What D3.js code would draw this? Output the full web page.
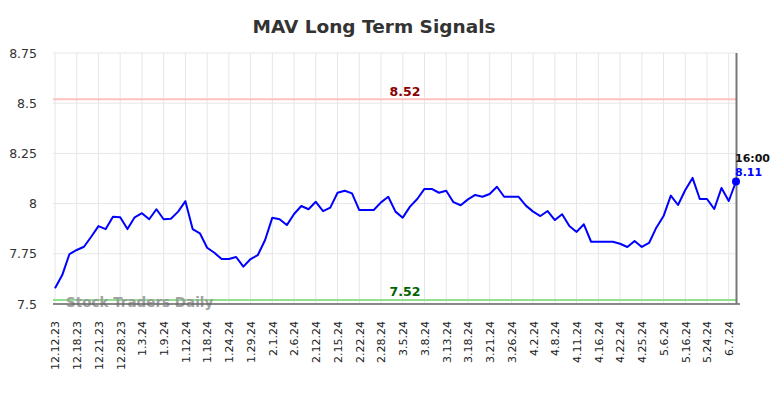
<!DOCTYPE html>
<html>
<head>
<meta charset="utf-8">
<script src="https://cdn.jsdelivr.net/npm/d3@7"></script>
<style>
  body { margin: 0; background: #fff; }
  svg { display: block; font-family: "DejaVu Sans", sans-serif; }
</style>
</head>
<body>
<div class="chart-container"></div>
<script>
// closing values, one per point (95 points)
const values = [
  7.578, 7.644, 7.749, 7.769, 7.785, 7.835, 7.888, 7.873, 7.935, 7.932,
  7.873, 7.932, 7.952, 7.922, 7.972, 7.922, 7.925, 7.960, 8.012, 7.873,
  7.852, 7.780, 7.755, 7.724, 7.724, 7.734, 7.686, 7.724, 7.744, 7.819,
  7.930, 7.922, 7.893, 7.948, 7.988, 7.972, 8.009, 7.962, 7.980, 8.054,
  8.064, 8.051, 7.968, 7.968, 7.968, 8.006, 8.034, 7.960, 7.930, 7.985,
  8.023, 8.073, 8.073, 8.054, 8.064, 8.007, 7.992, 8.021, 8.043, 8.034,
  8.048, 8.084, 8.034, 8.034, 8.034, 7.990, 7.960, 7.938, 7.963, 7.918,
  7.947, 7.888, 7.859, 7.897, 7.810, 7.810, 7.810, 7.810, 7.800, 7.784,
  7.814, 7.784, 7.804, 7.880, 7.938, 8.040, 7.993, 8.068, 8.128, 8.023,
  8.023, 7.973, 8.078, 8.013, 8.110
];

// one date label every 3 points
const tickLabels = [
  "12.12.23", "12.18.23", "12.21.23", "12.28.23", "1.3.24", "1.9.24",
  "1.12.24", "1.18.24", "1.24.24", "1.29.24", "2.1.24", "2.6.24",
  "2.12.24", "2.15.24", "2.22.24", "2.28.24", "3.5.24", "3.8.24",
  "3.13.24", "3.18.24", "3.21.24", "3.26.24", "4.2.24", "4.8.24",
  "4.11.24", "4.16.24", "4.22.24", "4.25.24", "5.6.24", "5.16.24",
  "5.24.24", "6.7.24"
];
const labelEvery = 3;

const yTicks = [7.5, 7.75, 8, 8.25, 8.5, 8.75];
const resistance = 8.52;
const support = 7.52;
const lastTime = "16:00";

const width = 784, height = 398;

const svg = d3.select('.chart-container')
  .append('svg')
  .attr('width', width)
  .attr('height', height);

const xScale = d3.scaleLinear()
  .domain([0, values.length - 1])
  .range([55, 736]);

const yScale = d3.scaleLinear()
  .domain([7.5, 8.75])
  .range([304, 53]);

// title
svg.append('text')
  .attr('x', 374)
  .attr('y', 33)
  .attr('text-anchor', 'middle')
  .attr('font-size', 18.5)
  .attr('font-weight', 'bold')
  .attr('fill', '#333')
  .text('MAV Long Term Signals');

// grid
const grid = svg.append('g');
grid.selectAll('.hgrid')
  .data(yTicks)
  .join('line')
  .attr('x1', 53).attr('x2', 737)
  .attr('y1', d => yScale(d)).attr('y2', d => yScale(d))
  .attr('stroke', '#e6e6e6')
  .attr('stroke-width', 1);

const tickIdx = tickLabels.map((d, i) => i * labelEvery);
grid.selectAll('.vgrid')
  .data(tickIdx)
  .join('line')
  .attr('x1', d => xScale(d)).attr('x2', d => xScale(d))
  .attr('y1', 53).attr('y2', 304)
  .attr('stroke', '#e6e6e6')
  .attr('stroke-width', 1);

// y axis labels
const yAxis = d3.axisLeft(yScale)
  .tickValues(yTicks)
  .tickFormat(d3.format('~g'))
  .tickSize(0)
  .tickPadding(0);
const yG = svg.append('g')
  .attr('transform', 'translate(37,0)')
  .call(yAxis);
yG.select('.domain').remove();
yG.selectAll('text')
  .attr('font-family', '"DejaVu Sans", sans-serif')
  .attr('font-size', 12.5)
  .attr('fill', '#333');

// x axis labels
const xAxis = d3.axisBottom(xScale)
  .tickValues(tickIdx)
  .tickFormat((d, i) => tickLabels[i])
  .tickSize(0);
const xG = svg.append('g')
  .attr('transform', 'translate(0,321)')
  .call(xAxis);
xG.select('.domain').remove();
xG.selectAll('text')
  .attr('font-family', '"DejaVu Sans", sans-serif')
  .attr('font-size', 11)
  .attr('fill', '#222')
  .attr('text-anchor', 'end')
  .attr('transform', 'rotate(-90)')
  .attr('x', 0)
  .attr('y', 0)
  .attr('dy', '0.35em');

// support / resistance
svg.append('line')
  .attr('x1', 53).attr('x2', 737)
  .attr('y1', yScale(resistance)).attr('y2', yScale(resistance))
  .attr('stroke', '#ffc0c0')
  .attr('stroke-width', 2);
svg.append('line')
  .attr('x1', 53).attr('x2', 737)
  .attr('y1', yScale(support)).attr('y2', yScale(support))
  .attr('stroke', '#90e090')
  .attr('stroke-width', 2);

svg.append('text')
  .attr('x', 405)
  .attr('y', yScale(resistance) - 3)
  .attr('text-anchor', 'middle')
  .attr('font-size', 12.5)
  .attr('font-weight', 'bold')
  .attr('fill', '#8b0000')
  .text(resistance.toFixed(2));
svg.append('text')
  .attr('x', 405)
  .attr('y', yScale(support) - 4)
  .attr('text-anchor', 'middle')
  .attr('font-size', 12.5)
  .attr('font-weight', 'bold')
  .attr('fill', '#006400')
  .text(support.toFixed(2));

// watermark
svg.append('text')
  .attr('x', 66)
  .attr('y', 307)
  .attr('font-size', 13.5)
  .attr('font-weight', 'bold')
  .attr('fill', '#999')
  .attr('opacity', 0.9)
  .text('Stock Traders Daily');

// frame: bottom and right edge
svg.append('line')
  .attr('x1', 53).attr('x2', 740)
  .attr('y1', 304).attr('y2', 304)
  .attr('stroke', '#666')
  .attr('stroke-width', 1.5);
svg.append('line')
  .attr('x1', 736.5).attr('x2', 736.5)
  .attr('y1', 53).attr('y2', 304)
  .attr('stroke', '#777')
  .attr('stroke-width', 2);

// price line
const line = d3.line()
  .x((d, i) => xScale(i))
  .y(d => yScale(d));

svg.append('path')
  .datum(values)
  .attr('fill', 'none')
  .attr('stroke', '#0000ff')
  .attr('stroke-width', 2)
  .attr('stroke-linejoin', 'round')
  .attr('d', line);

// last point
const lastI = values.length - 1;
const lastV = values[lastI];
svg.append('circle')
  .attr('cx', xScale(lastI))
  .attr('cy', yScale(lastV))
  .attr('r', 4)
  .attr('fill', '#0000ff');

svg.append('text')
  .attr('x', xScale(lastI) - 1)
  .attr('y', yScale(lastV) - 20)
  .attr('font-size', 11)
  .attr('font-weight', 'bold')
  .attr('fill', '#111')
  .text(lastTime);
svg.append('text')
  .attr('x', xScale(lastI) - 1)
  .attr('y', yScale(lastV) - 6)
  .attr('font-size', 11)
  .attr('font-weight', 'bold')
  .attr('fill', '#0000ff')
  .text(lastV.toFixed(2));
</script>
</body>
</html>
